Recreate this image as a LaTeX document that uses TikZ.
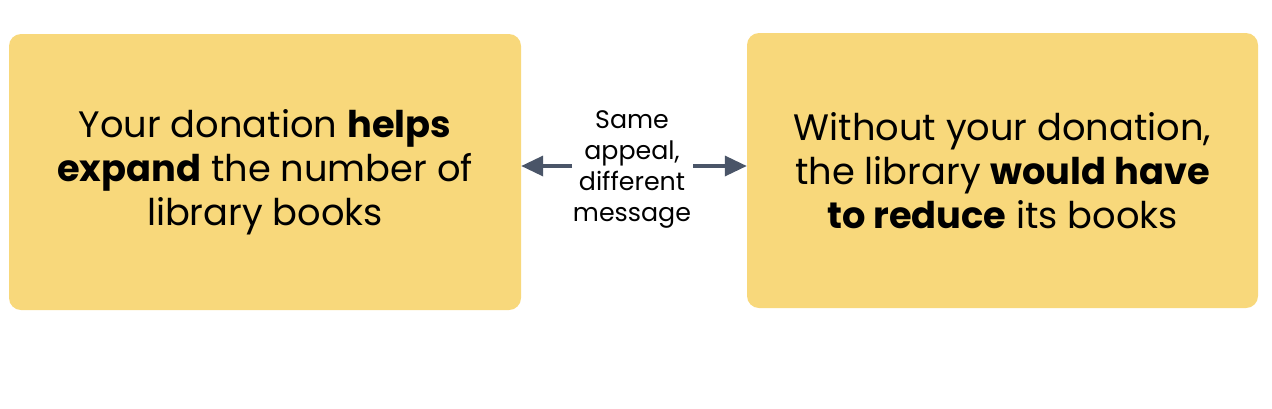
\documentclass[tikz,border=0pt]{standalone}
\usepackage{fontspec}
\setmainfont{Poppins}
\usetikzlibrary{arrows.meta}
\definecolor{boxfill}{HTML}{F8D87B}
\definecolor{arrcol}{HTML}{4A5568}
\tikzset{
  card/.style={fill=boxfill, draw=none, rounded corners=12pt, align=center, inner sep=0pt,
    font=\fontsize{36.8}{44}\selectfont, text=black},
  midtext/.style={align=center, inner sep=0pt, font=\fontsize{25.3}{31}\selectfont, text=black},
  arr/.style={draw=arrcol, line width=3.5pt, -{Triangle[length=22pt,width=20pt]}}
}
\begin{document}
\begin{tikzpicture}[x=1pt,y=-1pt]
\useasboundingbox (0,0) rectangle (1272,408);
\node[card, minimum width=512pt, minimum height=276pt] (left) at (265,172)
  {Your donation \textbf{helps}\\\textbf{expand} the number of\\library books};
\node[card, minimum width=511pt, minimum height=275pt] (right) at (1002.5,170.5)
  {Without your donation,\\the library \textbf{would have}\\\textbf{to reduce} its books};
\node[midtext] (mid) at (632,169) {Same\\appeal,\\different\\message};
\coordinate (al) at (572,166);
\coordinate (ar) at (693,166);
\draw[arr] (al) -- (left.east |- al);
\draw[arr] (ar) -- (right.west |- ar);
\end{tikzpicture}
\end{document}
